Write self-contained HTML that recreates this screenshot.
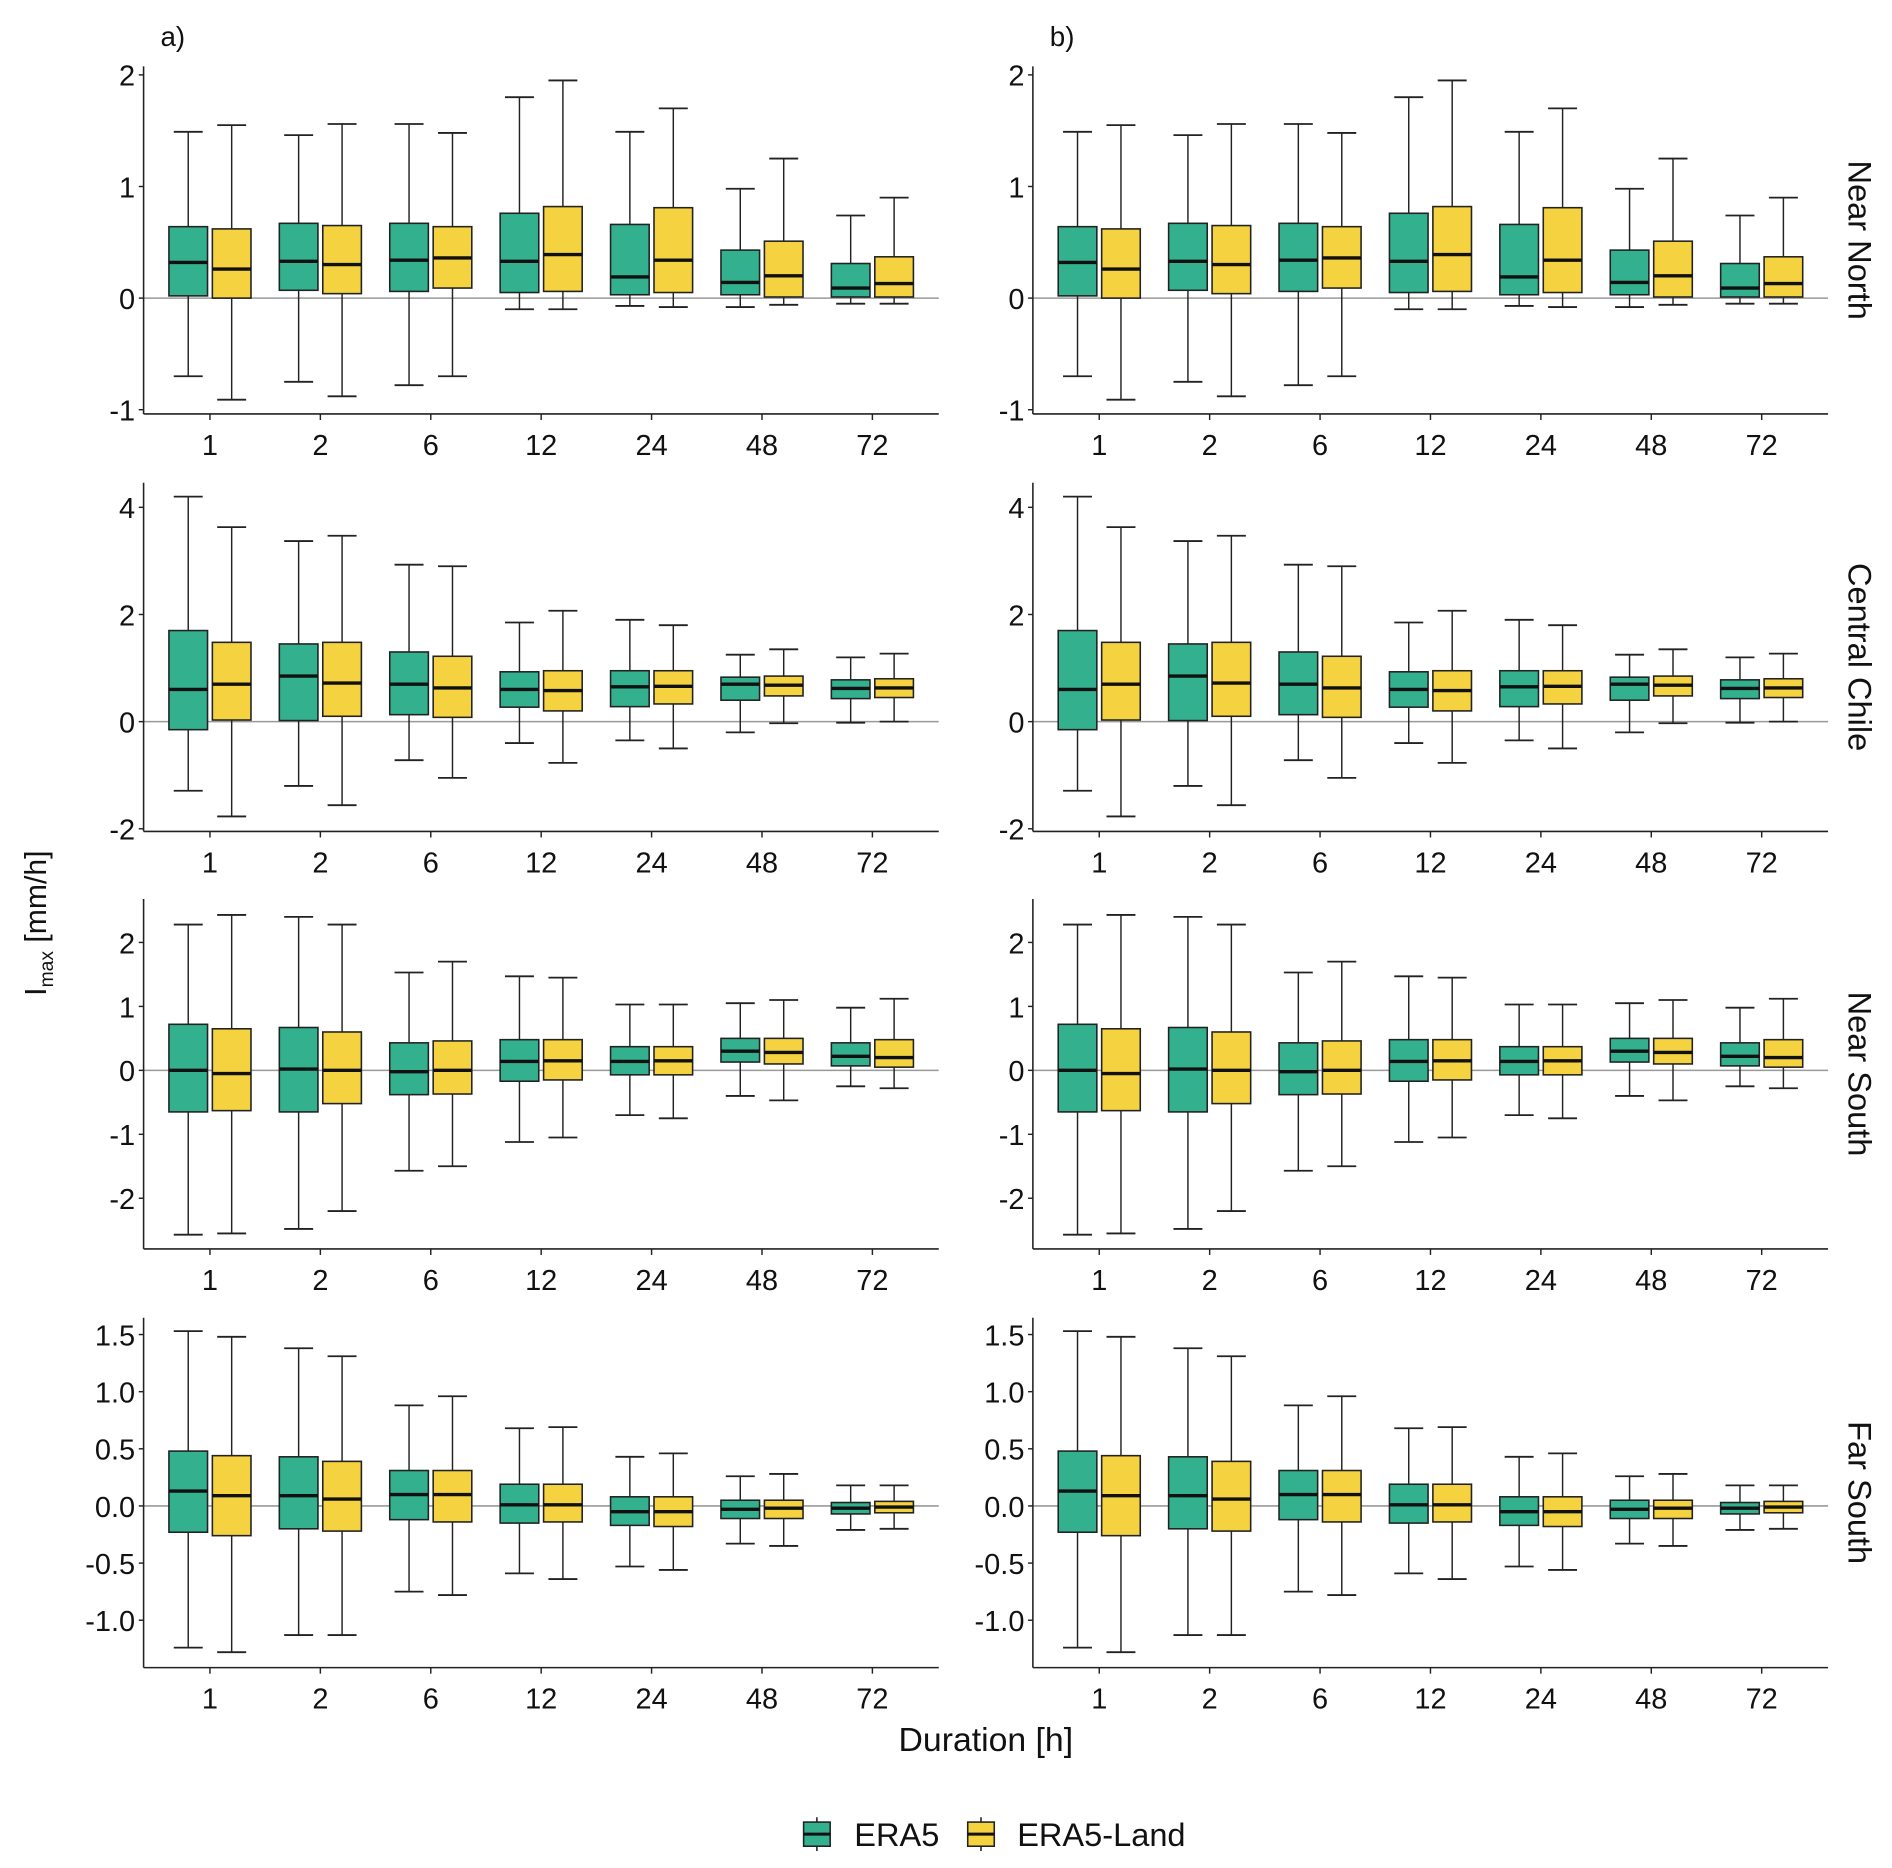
<!DOCTYPE html>
<html><head><meta charset="utf-8"><style>
html,body{margin:0;padding:0;background:#fff}
svg{display:block}
text{font-family:"Liberation Sans",sans-serif;fill:#111}
</style></head><body>
<svg id="chart" width="1892" height="1868" viewBox="0 0 1568 1548" xmlns="http://www.w3.org/2000/svg">
<text x="133" y="38" font-size="23">a)</text>
<text x="870" y="38" font-size="23">b)</text>
<text transform="translate(38,765) rotate(-90)" font-size="25" text-anchor="middle">I<tspan font-size="16" dy="6">max</tspan><tspan dy="-6"> [mm/h]</tspan></text>
<text x="817" y="1451" font-size="28" text-anchor="middle">Duration [h]</text>
<g>
 <g>
  <line x1="677" y1="1506" x2="677" y2="1534" stroke="#222" stroke-width="1.3"/>
  <rect x="666" y="1510" width="22" height="20" fill="#33b08e" stroke="#222" stroke-width="1.3"/>
  <line x1="666" y1="1520" x2="688" y2="1520" stroke="#111" stroke-width="2.5"/>
  <text x="708" y="1530" font-size="27">ERA5</text>
 </g>
 <g>
  <line x1="813" y1="1506" x2="813" y2="1534" stroke="#222" stroke-width="1.3"/>
  <rect x="802" y="1510" width="22" height="20" fill="#f5d23f" stroke="#222" stroke-width="1.3"/>
  <line x1="802" y1="1520" x2="824" y2="1520" stroke="#111" stroke-width="2.5"/>
  <text x="843" y="1530" font-size="27">ERA5-Land</text>
 </g>
</g>
</svg>
<script>
const durations = ["1","2","6","12","24","48","72"];
const regions = ["Near North","Central Chile","Near South","Far South"];
// [lowWhisker, q1, median, q3, highWhisker]
const nearNorthERA5 = [[-0.7,0.02,0.32,0.64,1.49],[-0.75,0.07,0.33,0.67,1.46],[-0.78,0.06,0.34,0.67,1.56],[-0.1,0.05,0.33,0.76,1.80],[-0.07,0.03,0.19,0.66,1.49],[-0.08,0.03,0.14,0.43,0.98],[-0.05,0.01,0.09,0.31,0.74]];
const nearNorthLand = [[-0.91,0.0,0.26,0.62,1.55],[-0.88,0.04,0.30,0.65,1.56],[-0.70,0.09,0.36,0.64,1.48],[-0.1,0.06,0.39,0.82,1.95],[-0.08,0.05,0.34,0.81,1.70],[-0.06,0.01,0.20,0.51,1.25],[-0.05,0.01,0.13,0.37,0.90]];
const centralERA5 = [[-1.29,-0.15,0.6,1.7,4.2],[-1.2,0.02,0.85,1.45,3.37],[-0.72,0.13,0.7,1.3,2.93],[-0.4,0.27,0.6,0.93,1.85],[-0.35,0.28,0.65,0.95,1.9],[-0.2,0.4,0.7,0.83,1.25],[-0.02,0.43,0.62,0.78,1.2]];
const centralLand = [[-1.77,0.03,0.7,1.48,3.63],[-1.56,0.1,0.72,1.48,3.47],[-1.05,0.08,0.63,1.22,2.9],[-0.77,0.2,0.58,0.95,2.07],[-0.5,0.33,0.66,0.95,1.8],[-0.03,0.48,0.68,0.85,1.35],[0.0,0.45,0.63,0.8,1.27]];
const nearSouthERA5 = [[-2.57,-0.65,0.0,0.72,2.28],[-2.48,-0.65,0.02,0.67,2.4],[-1.57,-0.38,-0.02,0.43,1.53],[-1.12,-0.17,0.14,0.48,1.47],[-0.7,-0.07,0.14,0.37,1.03],[-0.4,0.13,0.3,0.5,1.05],[-0.25,0.07,0.22,0.43,0.98]];
const nearSouthLand = [[-2.55,-0.63,-0.05,0.65,2.43],[-2.2,-0.52,0.0,0.6,2.28],[-1.5,-0.37,0.0,0.46,1.7],[-1.05,-0.15,0.15,0.48,1.45],[-0.75,-0.07,0.15,0.37,1.03],[-0.47,0.1,0.28,0.5,1.1],[-0.28,0.05,0.2,0.48,1.12]];
const farSouthERA5 = [[-1.24,-0.23,0.13,0.48,1.53],[-1.13,-0.2,0.09,0.43,1.38],[-0.75,-0.12,0.1,0.31,0.88],[-0.59,-0.15,0.01,0.19,0.68],[-0.53,-0.17,-0.05,0.08,0.43],[-0.33,-0.11,-0.03,0.05,0.26],[-0.21,-0.07,-0.02,0.03,0.18]];
const farSouthLand = [[-1.28,-0.26,0.09,0.44,1.48],[-1.13,-0.22,0.06,0.39,1.31],[-0.78,-0.14,0.1,0.31,0.96],[-0.64,-0.14,0.01,0.19,0.69],[-0.56,-0.18,-0.05,0.08,0.46],[-0.35,-0.11,-0.02,0.05,0.28],[-0.2,-0.06,-0.01,0.04,0.18]];
const nearNorthTicks = ["-1","0","1","2"];
const centralTicks = ["-2","0","2","4"];
const nearSouthTicks = ["-2","-1","0","1","2"];
const farSouthTicks = ["-1.0","-0.5","0.0","0.5","1.0","1.5"];

const era5Series = [nearNorthERA5, centralERA5, nearSouthERA5, farSouthERA5];
const landSeries = [nearNorthLand, centralLand, nearSouthLand, farSouthLand];
const tickSets = [nearNorthTicks, centralTicks, nearSouthTicks, farSouthTicks];
const rowLayout = [
 {zero:247, unit:92.5, top:55, axis:343},
 {zero:598, unit:44.4, top:400, axis:689},
 {zero:887, unit:53, top:745, axis:1035},
 {zero:1248, unit:94.7, top:1092, axis:1382}
];
const colX = [119, 856];
const panelW = 659;
const svg = document.getElementById('chart');
const NS = 'http://www.w3.org/2000/svg';
function mk(tag, attrs, parent){const e=document.createElementNS(NS,tag);for(const k in attrs)e.setAttribute(k,attrs[k]);parent.appendChild(e);return e;}

for(let r=0;r<4;r++){
 const L = rowLayout[r];
 const yS = v => L.zero - v*L.unit;
 for(let c=0;c<2;c++){
  const x0 = colX[c];
  const xS = i => x0 + 55 + i*91.5;
  const g = mk('g',{},svg);
  
  
  const zl = mk('line',{x1:x0,x2:x0+panelW,y1:yS(0),y2:yS(0),stroke:'#999','stroke-width':1.3},g);
  
  
  const ya = mk('line',{x1:x0,x2:x0,y1:L.top,y2:L.axis,stroke:'#222','stroke-width':1.3},g);
  
  
  const xa = mk('line',{x1:x0,x2:x0+panelW,y1:L.axis,y2:L.axis,stroke:'#222','stroke-width':1.3},g);
  
  
  tickSets[r].forEach(t=>{
   const y=yS(parseFloat(t));
   mk('line',{x1:x0-4,x2:x0,y1:y,y2:y,stroke:'#222','stroke-width':1.2},g);
   const tx=mk('text',{x:x0-7,y:y+9,'font-size':24,'text-anchor':'end'},g);
   tx.textContent=t;
   
   
  });
  durations.forEach((d,i)=>{
   const x=xS(i);
   mk('line',{x1:x,x2:x,y1:L.axis,y2:L.axis+5,stroke:'#222','stroke-width':1.2},g);
   const tx=mk('text',{x:x,y:L.axis+34,'font-size':24,'text-anchor':'middle'},g);
   tx.textContent=d;
   
   
   [[era5Series[r][i],-18,'#33b08e','era5'],[landSeries[r][i],18,'#f5d23f','era5-land']].forEach(([s,off,col,nm])=>{
    const cx=x+off, w=32;
    const bg=mk('g',{},g);
    
    
    mk('line',{x1:cx,x2:cx,y1:yS(s[0]),y2:yS(s[4]),stroke:'#222','stroke-width':1.2},bg);
    mk('line',{x1:cx-12,x2:cx+12,y1:yS(s[0]),y2:yS(s[0]),stroke:'#222','stroke-width':1.5},bg);
    mk('line',{x1:cx-12,x2:cx+12,y1:yS(s[4]),y2:yS(s[4]),stroke:'#222','stroke-width':1.5},bg);
    mk('rect',{x:cx-w/2,y:yS(s[3]),width:w,height:Math.max(0.5,yS(s[1])-yS(s[3])),fill:col,stroke:'#222','stroke-width':1.3},bg);
    mk('line',{x1:cx-w/2,x2:cx+w/2,y1:yS(s[2]),y2:yS(s[2]),stroke:'#111','stroke-width':2.8},bg);
   });
  });
 }
 const cy=(L.top+L.axis)/2;
 const st=mk('text',{transform:`translate(1532,${cy}) rotate(90)`,'font-size':27,'text-anchor':'middle'},svg);
 st.textContent=regions[r];
 
 
}
</script>
</body></html>
